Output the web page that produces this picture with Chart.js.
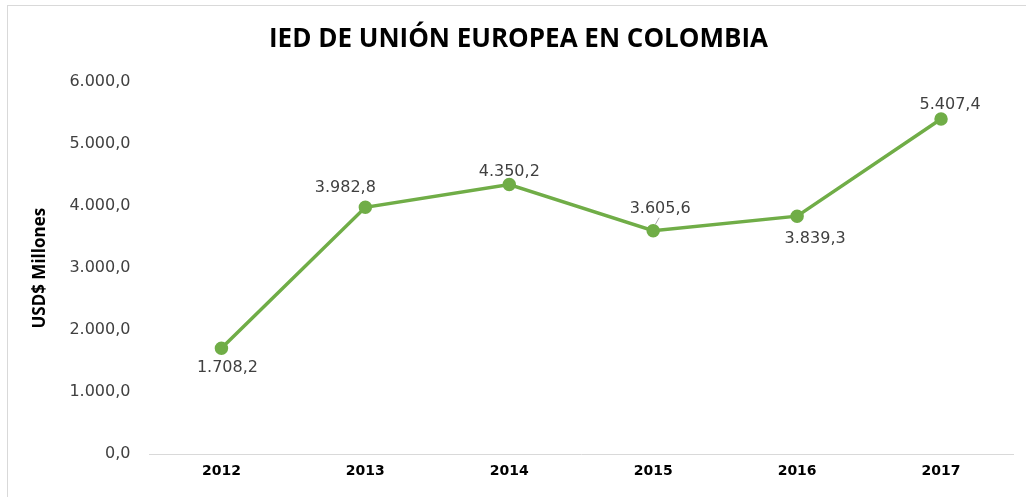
<!DOCTYPE html>
<html>
<head>
<meta charset="utf-8">
<script src="https://cdn.jsdelivr.net/npm/chart.js@4/dist/chart.umd.min.js"></script>
<style>
html,body{margin:0;padding:0;background:#fff;overflow:hidden;}
#wrap{position:relative;width:1026px;height:497px;}
#frame{position:absolute;left:7px;top:5px;width:1200px;height:700px;border:1px solid #d9d9d9;box-sizing:border-box;}
canvas{position:absolute;left:0;top:0;}
</style>
</head>
<body>
<div id="wrap"><div id="frame"></div><canvas id="c" width="1026" height="497"></canvas></div>
<script>
const categories = ['2012','2013','2014','2015','2016','2017'];
const values = [1708.2, 3982.8, 4350.2, 3605.6, 3839.3, 5407.4];
const yTicks = [0, 1000, 2000, 3000, 4000, 5000, 6000];
const titleText = 'IED DE UNIÓN EUROPEA EN COLOMBIA';
const yAxisTitle = 'USD$ Millones';

// label placement (style): [dx, dy] from point
const labelOffsets = [[6,20],[-20,-19],[0,-13],[7,-22],[18,23],[9,-14]];

function fmt(v){
  const parts = v.toFixed(1).split('.');
  parts[0] = parts[0].replace(/\B(?=(\d{3})+(?!\d))/g, '.');
  return parts[0] + ',' + parts[1];
}

const labelPlugin = {
  id:'pointLabels',
  afterDatasetsDraw(chart){
    const ctx = chart.ctx;
    const meta = chart.getDatasetMeta(0);
    ctx.save();
    ctx.font = '16px "DejaVu Sans"';
    ctx.fillStyle = '#404040';
    ctx.textAlign = 'center';
    ctx.textBaseline = 'middle';
    meta.data.forEach((pt,i)=>{
      const o = labelOffsets[i];
      const x = pt.x + o[0], y = pt.y + o[1];
      if(i===3){
        ctx.strokeStyle='#a6a6a6';ctx.lineWidth=1;
        ctx.beginPath();ctx.moveTo(pt.x+2,pt.y-6);ctx.lineTo(pt.x+6,pt.y-13);ctx.stroke();
      }
      ctx.fillText(fmt(values[i]), x, y);
    });
    ctx.restore();
  }
};

new Chart(document.getElementById('c'),{
  type:'line',
  data:{
    labels:categories,
    datasets:[{
      data:values,
      borderColor:'#70AD47',
      backgroundColor:'#70AD47',
      borderWidth:3.5,
      pointRadius:5,
      pointBackgroundColor:'#70AD47',
      pointBorderColor:'#70AD47',
      tension:0,
      fill:false
    }]
  },
  options:{
    responsive:false,
    animation:false,
    devicePixelRatio:1,
    layout:{padding:{left:24,right:13,top:12,bottom:8}},
    plugins:{
      legend:{display:false},
      tooltip:{enabled:false},
      title:{
        display:true,
        text:titleText,
        color:'#000',
        font:{family:'"Open Sans"',size:26,weight:'bold'},
        padding:{top:12,bottom:27}
      }
    },
    scales:{
      x:{
        offset:true,
        grid:{display:false,drawTicks:false},
        border:{display:true,color:'#d9d9d9',width:1},
        ticks:{color:'#000',font:{family:'"DejaVu Sans"',size:14,weight:'bold'},padding:9}
      },
      y:{
        min:0,max:6000,
        afterBuildTicks(s){ s.ticks = yTicks.map(v=>({value:v})); },
        grid:{display:false,drawTicks:false},
        border:{display:false},
        ticks:{color:'#404040',font:{family:'"DejaVu Sans"',size:16},padding:19,
          callback:(v)=>fmt(v)},
        title:{display:true,text:yAxisTitle,color:'#000',
          font:{family:'"Open Sans"',size:17,weight:'bold'},padding:{top:6,bottom:0}}
      }
    }
  },
  plugins:[labelPlugin]
});
</script>
</body>
</html>
